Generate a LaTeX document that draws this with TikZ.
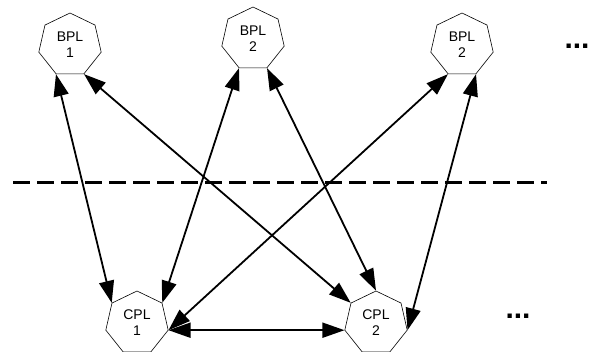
\documentclass[tikz,border=0pt]{standalone}
\usepackage{fontspec}
\setmainfont{Liberation Sans}
\usetikzlibrary{shapes.geometric,arrows.meta}
\tikzset{
  layer/.style={regular polygon, regular polygon sides=7, minimum size=64pt, inner sep=0pt,
    draw, line width=0.6pt, fill=white, align=center, font=\fontsize{14}{16}\selectfont},
  link/.style={{Triangle[length=22pt,width=15pt]}-{Triangle[length=22pt,width=15pt]}, line width=1.8pt},
  more/.style={font=\fontsize{30}{30}\selectfont\bfseries, inner sep=0pt}
}
\begin{document}
\begin{tikzpicture}[x=1pt,y=-1pt]

					\useasboundingbox (0,0) rectangle (592,351);
					\node[layer] (bpl1) at (70,45) {BPL\\1};
					\node[layer] (bpl2) at (253,39) {BPL\\2};
					\node[layer] (bpl3) at (462,45) {BPL\\2};
					\node[layer] (cpl1) at (137,323) {CPL\\1};
					\node[layer] (cpl2) at (376,323) {CPL\\2};
					\node[more] (dotsT) at (577,46) {...};
					\node[more] (dotsB) at (518,316) {...};

					\coordinate (sepL) at (13,182);
					\coordinate (sepR) at (547,182);
					\draw[line width=3pt, dash pattern=on 17pt off 7pt] (sepL) -- (sepR);

					\draw[link] (bpl1.corner 4) -- (cpl1.corner 2);
					\draw[link] (bpl1.corner 5) -- (cpl2.corner 2);
					\draw[link] (bpl2.corner 4) -- (cpl1.corner 7);
					\draw[link] (bpl2.corner 5) -- (cpl2.corner 1);
					\draw[link] (bpl3.corner 4) -- (cpl1.corner 6);
					\draw[link] (bpl3.corner 5) -- (cpl2.corner 6);
					\draw[link] (cpl1.corner 6) -- (cpl2.corner 3);

\end{tikzpicture}
\end{document}
